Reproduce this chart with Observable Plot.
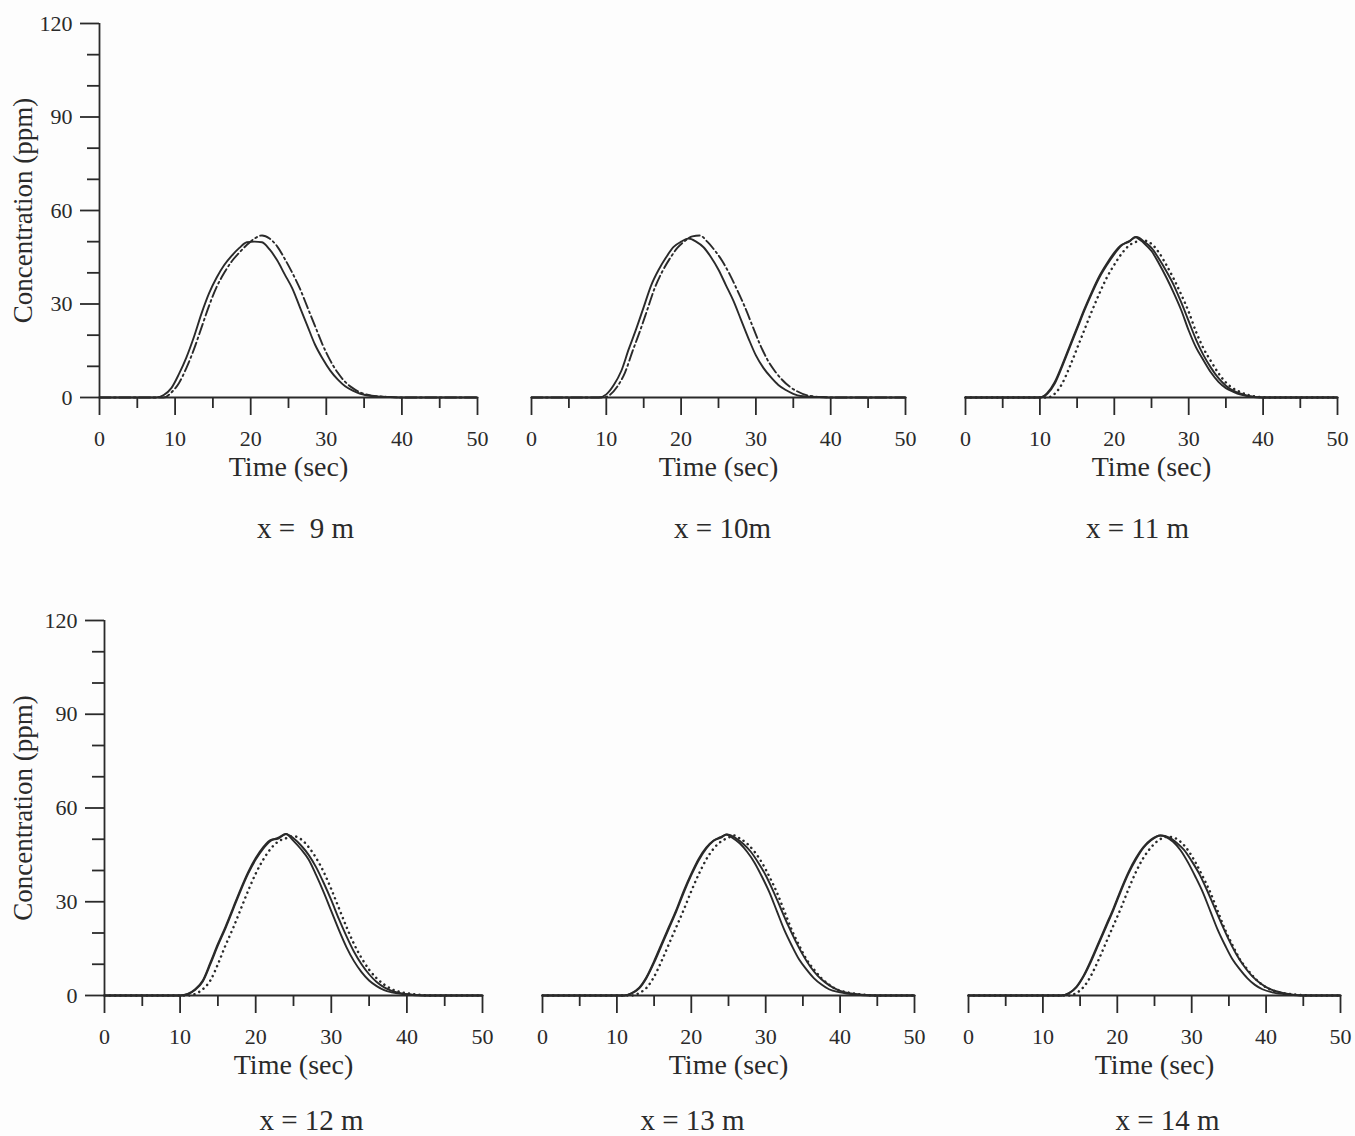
<!DOCTYPE html>
<html>
<head>
<meta charset="utf-8">
<script src="https://cdn.jsdelivr.net/npm/d3@7"></script>
<script src="https://cdn.jsdelivr.net/npm/@observablehq/plot@0.6"></script>
<style>
  html, body { margin: 0; padding: 0; background: #fdfdfd; overflow: hidden; }
  #wrap { position: relative; width: 1355px; height: 1136px; }
  #wrap svg { position: absolute; overflow: visible; }
</style>
</head>
<body>
<div id="wrap"></div>
<script>
// ---------------- DATA ----------------
const panelLabels = ["x =\u00a0 9 m", "x = 10m", "x = 11 m", "x = 12 m", "x = 13 m", "x = 14 m"];
const xTicksMajor = [0, 10, 20, 30, 40, 50];
const xTicksMinor = [5, 15, 25, 35, 45];
const yTicksMajor = [0, 30, 60, 90, 120];
const yTicksMinor = [10, 20, 40, 50, 70, 80, 100, 110];
const xTitle = "Time (sec)";
const yTitle = "Concentration (ppm)";

// x = 9 m : solid, dash-dot
const t9a = [0, 7.5, 8.5, 9.5, 10.5, 11.5, 12.5, 13.5, 14.5, 15.5, 16.5, 17.5, 18.5, 19.5, 20.5, 21.5, 22.5, 23.5, 24.5, 25.5, 26.5, 27.5, 28.5, 29.5, 30.5, 31.5, 32.5, 33.5, 34.5, 36, 38, 40, 50];
const c9a = [0, 0, 0.8, 3, 7.5, 12.9, 19.5, 27, 33.5, 38.5, 42.5, 45.5, 48, 49.8, 50, 49.8, 47.5, 44, 39.5, 35, 29, 23, 17, 12.5, 8.7, 5.8, 3.6, 2.2, 1.2, 0.5, 0.2, 0, 0];
const t9b = [0, 8.5, 9.5, 10.5, 11.5, 12.5, 13.5, 14.5, 15.5, 16.5, 17.5, 18.5, 19.5, 20.5, 21.5, 22.5, 23.5, 24.5, 25.5, 26.5, 27.5, 28.5, 29.5, 30.5, 31.5, 32.5, 33.5, 34.5, 36, 38, 40, 50];
const c9b = [0, 0, 1.6, 4.6, 9.5, 15.5, 22.5, 29.5, 35.5, 40, 43.7, 46.5, 49, 51, 52, 51, 48.5, 44.5, 40, 35, 29, 23, 17, 12, 8, 5, 3, 1.6, 0.6, 0.2, 0, 0];

// x = 10 m : solid, dash-dot
const t10a = [0, 9, 10, 11, 12, 13, 14, 15, 16, 17, 18, 19, 20, 21, 22, 23, 24, 25, 26, 27, 28, 29, 30, 31, 32, 33, 34, 35, 36, 38, 40, 50];
const c10a = [0, 0, 1, 4, 8.5, 15.5, 22, 29, 36, 41, 45, 48.3, 50, 51, 50, 48.2, 45, 41, 36, 31, 25, 19, 13.5, 9.5, 6.5, 4, 2.4, 1.2, 0.5, 0.2, 0, 0];
const t10b = [0, 9.5, 10.5, 11.5, 12.5, 13.5, 14.5, 15.5, 16.5, 17.5, 18.5, 19.5, 20.5, 21.5, 22.5, 23.5, 24.5, 25.5, 26.5, 27.5, 28.5, 29.5, 30.5, 31.5, 32.5, 33.5, 34.5, 35.5, 37, 39, 41, 50];
const c10b = [0, 0, 0.9, 3.6, 8, 14.8, 21.3, 28.3, 35.3, 40.5, 44.6, 48, 50.2, 51.7, 52, 50, 47.2, 43.8, 39.5, 34.5, 29.2, 23.2, 17.3, 12.3, 8.6, 5.7, 3.5, 2, 0.6, 0.15, 0, 0];

// x = 11 m : solid, solid, dotted
const t11a = [0, 10, 11, 12, 13, 14, 15, 16, 17, 18, 19, 20, 21, 22, 22.8, 23.5, 24, 25, 26, 27, 28, 29, 30, 31, 32, 33, 34, 35, 36, 37, 38, 40, 50];
const c11a = [0, 0, 1.5, 5, 10.5, 16.5, 22.5, 28.5, 34, 39, 43, 46.5, 49, 50, 51.5, 50.5, 49.5, 47, 43, 38.5, 33.5, 28, 21.5, 16, 11.9, 8, 5, 3, 1.8, 0.9, 0.4, 0, 0];
const t11b = [0, 10, 11, 12, 13, 14, 15, 16, 17, 18, 19, 20, 21, 22, 23, 24, 25, 26, 27, 28, 29, 30, 31, 32, 33, 34, 35, 36, 37, 38, 40, 50];
const c11b = [0, 0, 1.2, 4.5, 10, 16, 22, 28, 33.5, 38.5, 42.5, 46, 48.8, 50.2, 51.5, 50, 48, 44.5, 40.5, 36, 30.5, 24.5, 18.5, 13.5, 9.5, 6.2, 3.8, 2.2, 1.2, 0.5, 0, 0];
const t11c = [0, 11, 12, 13, 14, 15, 16, 17, 18, 19, 20, 21, 22, 23, 23.8, 24.5, 25, 26, 27, 28, 29, 30, 31, 32, 33, 34, 35, 36, 37, 38, 39, 41, 50];
const c11c = [0, 0, 1.2, 4.5, 9.8, 15.8, 21.8, 27.8, 33.4, 38.5, 42.6, 46.2, 48.8, 50, 50.6, 50, 49.3, 46.5, 42.5, 38, 33, 27.5, 21, 15.7, 11.6, 7.8, 4.8, 2.9, 1.7, 0.8, 0.3, 0, 0];

// x = 12 m
const t12a = [0, 10, 11, 12, 13, 14, 15, 16, 17, 18, 19, 20, 21, 22, 23, 24, 25, 26, 27, 28, 29, 30, 31, 32, 33, 34, 35, 36, 37, 38, 40, 42, 50];
const c12a = [0, 0, 0.5, 2, 4.8, 10.5, 16.5, 22, 28, 34, 39.5, 44, 47.5, 49.8, 50.2, 51.7, 49.5, 46.8, 43.5, 38.5, 33, 27, 21, 15.5, 11, 7.5, 4.8, 3, 1.7, 1, 0.3, 0, 0];
const t12b = [0, 10, 11, 12, 13, 14, 15, 16, 17, 18, 19, 20, 21, 22, 23, 24, 25, 26, 27, 28, 29, 30, 31, 32, 33, 34, 35, 36, 37, 38, 39, 41, 43, 50];
const c12b = [0, 0, 0.4, 1.8, 4.5, 10, 16, 21.5, 27.5, 33.5, 39, 43.5, 47, 49.5, 50.5, 51.7, 50.3, 48, 45, 41, 36, 30.5, 24.5, 19, 14, 10, 6.8, 4.3, 2.6, 1.5, 0.8, 0.2, 0, 0];
const t12c = [0, 11, 12, 13, 14, 15, 16, 17, 18, 19, 20, 21, 22, 23, 24, 25, 26, 27, 28, 29, 30, 31, 32, 33, 34, 35, 36, 37, 38, 39, 41, 43, 50];
const c12c = [0, 0, 0.5, 2, 4.8, 10, 16, 21.5, 27.5, 33.5, 39, 43.5, 47, 49.3, 50.3, 51, 50, 47.5, 44, 39.5, 34, 28, 22, 16.5, 12, 8.3, 5.5, 3.5, 2, 1.2, 0.4, 0, 0];

// x = 13 m
const t13a = [0, 11, 12, 13, 14, 15, 16, 17, 18, 19, 20, 21, 22, 23, 24, 24.7, 25.5, 26.5, 27.5, 28.5, 29.5, 30.5, 31.5, 32.5, 33.5, 34.5, 35.5, 36.5, 37.5, 38.5, 40, 42, 44, 50];
const c13a = [0, 0, 0.8, 2.5, 6, 11, 16.5, 22, 27.5, 33.6, 39, 43.8, 47.3, 49.6, 50.5, 51.5, 50.5, 48.7, 46, 42.5, 38, 33, 27, 21, 16, 11.5, 8.3, 5.5, 3.5, 2, 1, 0.3, 0, 0];
const t13b = [0, 11, 12, 13, 14, 15, 16, 17, 18, 19, 20, 21, 22, 23, 24, 24.8, 26, 27, 28, 29, 30, 31, 32, 33, 34, 35, 36, 37, 38, 39, 40, 42, 44, 46, 50];
const c13b = [0, 0, 0.7, 2.3, 5.7, 10.5, 16, 21.5, 27, 33, 38.5, 43.3, 47, 49.5, 50.8, 51.5, 50.3, 48.5, 46, 42.5, 38.5, 33.5, 28, 22.5, 17.5, 13, 9.2, 6.3, 4.2, 2.6, 1.5, 0.5, 0.1, 0, 0];
const t13c = [0, 12, 13, 14, 15, 16, 17, 18, 19, 20, 21, 22, 23, 24, 25, 25.7, 26.5, 27.5, 28.5, 29.5, 30.5, 31.5, 32.5, 33.5, 34.5, 35.5, 36.5, 37.5, 38.5, 39.5, 41, 43, 45, 50];
const c13c = [0, 0, 0.8, 2.5, 6, 11, 16.5, 22, 27.5, 33.4, 38.8, 43.5, 47, 49.3, 50.5, 51.2, 50.3, 48.6, 46, 42.5, 38, 33, 27, 21, 16, 11.5, 8.3, 5.5, 3.5, 2, 1, 0.3, 0, 0];

// x = 14 m
const t14a = [0, 12.5, 13.5, 14.5, 15.5, 16.5, 17.5, 18.5, 19.5, 20.5, 21.5, 22.5, 23.5, 24.5, 25.8, 26.5, 27.5, 28.5, 29.5, 30.5, 31.5, 32.5, 33.5, 34.5, 35.5, 36.5, 37.5, 38.5, 39.5, 41, 43, 45, 50];
const c14a = [0, 0, 0.8, 2.8, 6.5, 11.5, 17, 22.5, 28, 34, 39.5, 44, 47.5, 49.8, 51.2, 50.8, 49.2, 46.5, 42.6, 38, 33, 27, 21, 16, 11.5, 8.3, 5.5, 3.4, 2, 0.9, 0.3, 0, 0];
const t14b = [0, 12.5, 13.5, 14.5, 15.5, 16.5, 17.5, 18.5, 19.5, 20.5, 21.5, 22.5, 23.5, 24.5, 25.8, 27, 28, 29, 30, 31, 32, 33, 34, 35, 36, 37, 38, 39, 40, 41, 43, 45, 50];
const c14b = [0, 0, 0.7, 2.6, 6.2, 11, 16.5, 22, 27.5, 33.5, 39, 43.5, 47.2, 49.6, 51.2, 50.5, 48.8, 46.5, 43, 39, 34, 28.5, 23, 17.8, 13.2, 9.5, 6.5, 4.3, 2.7, 1.6, 0.5, 0, 0];
const t14c = [0, 13.5, 14.5, 15.5, 16.5, 17.5, 18.5, 19.5, 20.5, 21.5, 22.5, 23.5, 24.5, 25.5, 26.8, 27.5, 28.5, 29.5, 30.5, 31.5, 32.5, 33.5, 34.5, 35.5, 36.5, 37.5, 38.5, 39.5, 40.5, 42, 44, 46, 50];
const c14c = [0, 0, 0.8, 2.8, 6.5, 11.5, 17, 22.5, 28, 34, 39.5, 44, 47.3, 49.6, 50.8, 50.6, 49.2, 46.5, 42.6, 38, 33, 27, 21, 16, 11.5, 8.3, 5.5, 3.4, 2, 0.9, 0.3, 0, 0];

const panelSeries = [
  [[t9a, c9a], [t9b, c9b]],
  [[t10a, c10a], [t10b, c10b]],
  [[t11a, c11a], [t11b, c11b], [t11c, c11c]],
  [[t12a, c12a], [t12b, c12b], [t12c, c12c]],
  [[t13a, c13a], [t13b, c13b], [t13c, c13c]],
  [[t14a, c14a], [t14b, c14b], [t14c, c14c]]
];

// ---------------- LAYOUT / STYLE ----------------
const layout = [
  {x0: 99,  x50: 477,  y120: 23,  y0: 397, yAxis: true,  capDx: 17,  capDy: 140},
  {x0: 531, x50: 905,  y120: 23,  y0: 397, yAxis: false, capDx: 4,   capDy: 140},
  {x0: 965, x50: 1337, y120: 23,  y0: 397, yAxis: false, capDx: -14, capDy: 140},
  {x0: 104, x50: 482,  y120: 620, y0: 995, yAxis: true,  capDx: 18,  capDy: 134},
  {x0: 542, x50: 914,  y120: 620, y0: 995, yAxis: false, capDx: -36, capDy: 134},
  {x0: 968, x50: 1340, y120: 620, y0: 995, yAxis: false, capDx: 13,  capDy: 134}
];
const ink = "#2a2a2a";
const axisW = 1.8;
const styleSolid = {stroke: ink, strokeWidth: 1.9};
const styleDashDot = {stroke: ink, strokeWidth: 1.9, strokeDasharray: "11,3.5,1.8,3.5"};
const styleDotted = {stroke: ink, strokeWidth: 2.5, strokeDasharray: "0.1,5.2", strokeLinecap: "round"};

const wrap = document.getElementById("wrap");

panelSeries.forEach((series, i) => {
  const L = layout[i];
  const ml = L.yAxis ? L.x0 : 20;
  const mr = 14;
  const mt = 20;
  const mb = L.capDy + 6;
  const width = ml + (L.x50 - L.x0) + mr;
  const height = mt + (L.y0 - L.y120) + mb;
  const styles = series.length === 2 ? [styleSolid, styleDashDot] : [styleSolid, styleSolid, styleDotted];

  const marks = [];
  // x axis
  marks.push(Plot.ruleY([0], {stroke: ink, strokeWidth: axisW}));
  marks.push(Plot.axisX({ticks: xTicksMajor, tickSize: 18, tickPadding: 15, fontSize: 22, label: null, stroke: ink, strokeWidth: axisW, fill: ink}));
  marks.push(Plot.axisX({ticks: xTicksMinor, tickSize: 11, fill: "none", label: null, stroke: ink, strokeWidth: axisW}));
  if (L.yAxis) {
    marks.push(Plot.ruleX([0], {y1: 0, y2: 120, stroke: ink, strokeWidth: axisW}));
    marks.push(Plot.axisY({ticks: yTicksMajor, tickSize: 19, tickPadding: 8, fontSize: 22, label: null, stroke: ink, strokeWidth: axisW, fill: ink}));
    marks.push(Plot.axisY({ticks: yTicksMinor, tickSize: 12, fill: "none", label: null, stroke: ink, strokeWidth: axisW}));
    marks.push(Plot.text([yTitle], {frameAnchor: "left", dx: -(L.x0 - 23), rotate: -90, textAnchor: "middle", lineAnchor: "middle", fontSize: 27, fill: ink, text: d => d}));
  }
  series.forEach(([t, c], k) => {
    marks.push(Plot.line(t, {x: t, y: c, curve: "monotone-x", ...styles[k]}));
  });
  marks.push(Plot.text([xTitle], {frameAnchor: "bottom", dy: 78, textAnchor: "middle", lineAnchor: "bottom", fontSize: 28, fill: ink, text: d => d}));
  marks.push(Plot.text([panelLabels[i]], {frameAnchor: "bottom", dx: L.capDx, dy: L.capDy, textAnchor: "middle", lineAnchor: "bottom", fontSize: 29, fill: ink, text: d => d}));

  const svg = Plot.plot({
    width, height,
    marginLeft: ml, marginRight: mr, marginTop: mt, marginBottom: mb,
    x: {domain: [0, 50]},
    y: L.yAxis ? {domain: [0, 120]} : {domain: [0, 120], axis: null},
    style: {background: "transparent", fontFamily: "'Liberation Serif', 'DejaVu Serif', serif", color: ink, overflow: "visible"},
    marks
  });
  svg.style.left = (L.x0 - ml) + "px";
  svg.style.top = (L.y120 - mt) + "px";
  wrap.appendChild(svg);
});
</script>
</body>
</html>
